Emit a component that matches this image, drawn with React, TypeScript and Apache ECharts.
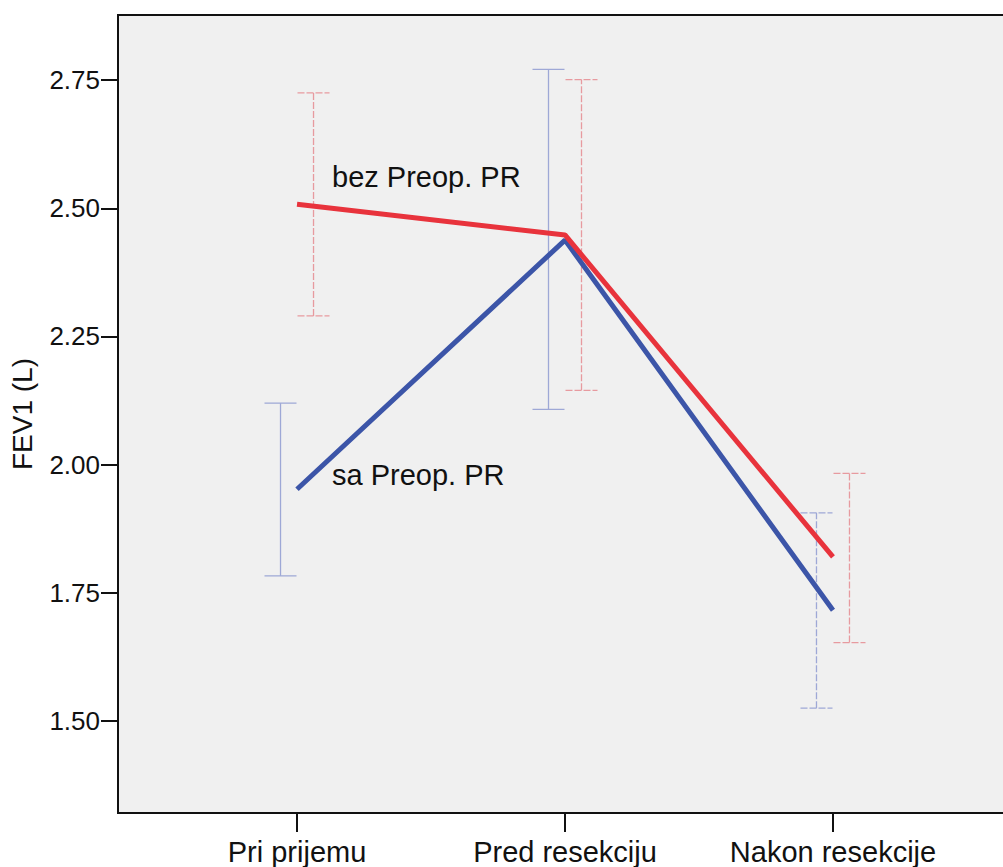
import React, { useEffect, useRef } from "react";
import * as echarts from "echarts";

const categories = ["Pri prijemu", "Pred resekciju", "Nakon resekcije"];
const yTicks = [1.5, 1.75, 2.0, 2.25, 2.5, 2.75];
const Y_MIN = 1.3206;
const Y_MAX = 2.877;

const bezMeans = [2.508, 2.448, 1.82];
const bezLow = [2.29, 2.145, 1.653];
const bezHigh = [2.725, 2.751, 1.983];

const saMeans = [1.952, 2.438, 1.716];
const saLow = [1.783, 2.108, 1.525];
const saHigh = [2.12, 2.771, 1.906];

const RED = "#e8333c";
const BLUE = "#3c55a8";
const RED_LIGHT = "#e79a9f";
const BLUE_LIGHT = "#9ea8d6";
const FONT = "Liberation Sans, Arial, sans-serif";

export default function App() {
  const ref = useRef<HTMLDivElement>(null);
  useEffect(() => {
    if (!ref.current) return;
    const chart = echarts.init(ref.current, null, { renderer: "svg" });
    const xs = categories.map((_, i) => i + 1);

    const errSeries = (low: number[], high: number[], color: string, shift: number, dashes: boolean[]) => ({
      type: "custom",
      silent: true,
      z: 3,
      data: xs.map((x, i) => [x, low[i], high[i], i]),
      renderItem: (params: any, api: any) => {
        const x = api.value(0);
        const lo = api.coord([x, api.value(1)]);
        const hi = api.coord([x, api.value(2)]);
        const idx = api.value(3);
        const px = lo[0] + shift;
        const cap = 16;
        const style = { stroke: color, lineWidth: 1.3, lineDash: dashes[idx] ? [7, 2] : null };
        return {
          type: "group",
          children: [
            { type: "line", shape: { x1: px, y1: lo[1], x2: px, y2: hi[1] }, style },
            { type: "line", shape: { x1: px - cap, y1: lo[1], x2: px + cap, y2: lo[1] }, style },
            { type: "line", shape: { x1: px - cap, y1: hi[1], x2: px + cap, y2: hi[1] }, style },
          ],
        };
      },
    });

    const tickSeries = {
      type: "custom",
      silent: true,
      z: 6,
      clip: false,
      data: xs.map((x) => [x, Y_MIN]),
      renderItem: (params: any, api: any) => {
        const p = api.coord([api.value(0), api.value(1)]);
        return {
          type: "line",
          shape: { x1: p[0], y1: p[1], x2: p[0], y2: p[1] + 19 },
          style: { stroke: "#111", lineWidth: 2 },
        };
      },
    };

    chart.setOption({
      animation: false,
      backgroundColor: "#ffffff",
      grid: {
        left: 118,
        top: 15,
        right: 88,
        bottom: 54,
        show: true,
        backgroundColor: "#f0f0f0",
        borderColor: "#111",
        borderWidth: 2,
      },
      xAxis: {
        type: "value",
        min: 0.332,
        max: 3.668,
        splitLine: { show: false },
        axisLine: { show: true, lineStyle: { color: "#111", width: 2 } },
        axisTick: { show: false },
        axisLabel: {
          customValues: xs,
          formatter: (v: number) => categories[Math.round(v) - 1] ?? "",
          fontFamily: FONT,
          fontSize: 29,
          color: "#111",
          margin: 24,
        },
      },
      yAxis: {
        type: "value",
        min: Y_MIN,
        max: Y_MAX,
        name: "FEV1 (L)",
        nameLocation: "middle",
        nameGap: 82,
        nameTextStyle: { fontFamily: FONT, fontSize: 28, color: "#111" },
        splitLine: { show: false },
        axisLine: { show: true, lineStyle: { color: "#111", width: 2 } },
        axisTick: { show: true, length: 17, lineStyle: { color: "#111", width: 2 }, customValues: yTicks },
        axisLabel: {
          customValues: yTicks,
          formatter: (v: number) => v.toFixed(2),
          fontFamily: FONT,
          fontSize: 26,
          color: "#111",
          margin: 18,
        },
      },
      series: [
        errSeries(saLow, saHigh, BLUE_LIGHT, -16.5, [false, false, true]),
        errSeries(bezLow, bezHigh, RED_LIGHT, 16.5, [true, true, true]),
        tickSeries,
        {
          type: "line",
          name: "sa Preop. PR",
          data: xs.map((x, i) => [x, saMeans[i]]),
          symbol: "none",
          z: 4,
          lineStyle: { color: BLUE, width: 5 },
        },
        {
          type: "line",
          name: "bez Preop. PR",
          data: xs.map((x, i) => [x, bezMeans[i]]),
          symbol: "none",
          z: 5,
          lineStyle: { color: RED, width: 5 },
        },
      ],
      graphic: [
        {
          type: "text",
          left: 332,
          top: 162,
          style: { text: "bez Preop. PR", fontFamily: FONT, fontSize: 29, fill: "#111" },
          z: 10,
        },
        {
          type: "text",
          left: 332,
          top: 460,
          style: { text: "sa Preop. PR", fontFamily: FONT, fontSize: 29, fill: "#111" },
          z: 10,
        },
      ],
    });
    return () => chart.dispose();
  }, []);
  return (
    <div style={{ position: "fixed", left: 0, top: 0, width: 1003, height: 867, overflow: "hidden" }}>
      <div ref={ref} style={{ width: 1100, height: 867 }} />
    </div>
  );
}
